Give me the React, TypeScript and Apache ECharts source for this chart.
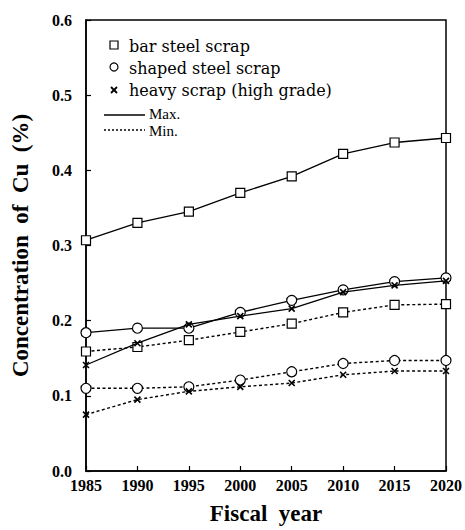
import React, { useEffect, useRef } from "react";
import * as echarts from "echarts";

const years = [1985, 1990, 1995, 2000, 2005, 2010, 2015, 2020];
const barMax = [0.307, 0.33, 0.345, 0.37, 0.392, 0.422, 0.437, 0.443];
const barMin = [0.159, 0.165, 0.174, 0.185, 0.196, 0.211, 0.221, 0.222];
const shapedMax = [0.184, 0.19, 0.19, 0.211, 0.227, 0.241, 0.252, 0.257];
const shapedMin = [0.11, 0.11, 0.112, 0.121, 0.132, 0.143, 0.147, 0.147];
const heavyMax = [0.141, 0.17, 0.195, 0.206, 0.216, 0.238, 0.247, 0.253];
const heavyMin = [0.075, 0.095, 0.106, 0.112, 0.117, 0.128, 0.133, 0.133];

const legendLabels = ["bar steel scrap", "shaped steel scrap", "heavy scrap (high grade)"];
const lineLabels = ["Max.", "Min."];

const SERIF = "'Liberation Serif', 'Times New Roman', serif";
const CROSS = "path://M0,0L10,10M10,0L0,10";

function pairs(vals: number[]) {
  return years.map((y, i) => [y, vals[i]]);
}

export default function App() {
  const ref = useRef<HTMLDivElement>(null);
  useEffect(() => {
    if (!ref.current) return;
    const chart = echarts.init(ref.current, null, { renderer: "svg" });
    const mk = (
      name: string,
      vals: number[],
      kind: "sq" | "ci" | "x",
      dashed: boolean
    ) => ({
      name,
      type: "line",
      data: pairs(vals),
      symbol: kind === "sq" ? "rect" : kind === "ci" ? "circle" : CROSS,
      symbolSize: kind === "sq" ? 9 : kind === "ci" ? 10 : 6,
      showSymbol: true,
      lineStyle: {
        color: "#000",
        width: dashed ? 1.4 : 1.3,
        type: dashed ? [3, 2.5] : "solid",
      },
      itemStyle: {
        color: kind === "x" ? "transparent" : "#fff",
        borderColor: "#000",
        borderWidth: kind === "x" ? 1.6 : 1.2,
      },
      z: kind === "x" ? 4 : kind === "ci" ? 3 : 2,
    });
    chart.setOption({
      animation: false,
      backgroundColor: "#fff",
      grid: {
        left: 86,
        right: 14,
        top: 20,
        bottom: 52,
        show: true,
        borderColor: "#000",
        borderWidth: 1.5,
      },
      xAxis: {
        type: "value",
        min: 1985,
        max: 2020,
        interval: 5,
        name: "Fiscal  year",
        nameLocation: "middle",
        nameGap: 31,
        nameTextStyle: { fontFamily: SERIF, fontWeight: "bold", fontSize: 23, color: "#000" },
        axisLine: { show: true, lineStyle: { color: "#000", width: 1.5 } },
        axisTick: { show: true, inside: true, length: 5, lineStyle: { color: "#000", width: 1.2 } },
        axisLabel: {
          fontFamily: SERIF,
          fontWeight: "bold",
          fontSize: 16,
          color: "#000",
          margin: 6,
          formatter: (v: number) => String(v),
        },
        splitLine: { show: false },
      },
      yAxis: {
        type: "value",
        min: 0,
        max: 0.6,
        interval: 0.1,
        name: "Concentration  of  Cu  (%)",
        nameLocation: "middle",
        nameGap: 54,
        nameRotate: 90,
        nameTextStyle: { fontFamily: SERIF, fontWeight: "bold", fontSize: 23, color: "#000" },
        axisLine: { show: true, lineStyle: { color: "#000", width: 1.5 } },
        axisTick: { show: true, inside: true, length: 5, lineStyle: { color: "#000", width: 1.2 } },
        axisLabel: {
          fontFamily: SERIF,
          fontWeight: "bold",
          fontSize: 16,
          color: "#000",
          margin: 14,
          formatter: (v: number) => v.toFixed(1),
        },
        splitLine: { show: false },
      },
      series: [
        mk("bar steel scrap Max.", barMax, "sq", false),
        mk("bar steel scrap Min.", barMin, "sq", true),
        mk("shaped steel scrap Max.", shapedMax, "ci", false),
        mk("shaped steel scrap Min.", shapedMin, "ci", true),
        mk("heavy scrap Max.", heavyMax, "x", false),
        mk("heavy scrap Min.", heavyMin, "x", true),
      ],
      graphic: [
        { type: "rect", shape: { x: 110, y: 41, width: 8, height: 8 }, style: { fill: "#fff", stroke: "#000", lineWidth: 1.2 } },
        { type: "circle", shape: { cx: 114, cy: 67, r: 4 }, style: { fill: "#fff", stroke: "#000", lineWidth: 1.2 } },
        { type: "line", shape: { x1: 111, y1: 87, x2: 117, y2: 93 }, style: { stroke: "#000", lineWidth: 1.8 } },
        { type: "line", shape: { x1: 117, y1: 87, x2: 111, y2: 93 }, style: { stroke: "#000", lineWidth: 1.8 } },
        { type: "text", x: 129, y: 46, style: { text: legendLabels[0], font: "16px 'DejaVu Serif', serif", fill: "#000", verticalAlign: "middle" } },
        { type: "text", x: 129, y: 68, style: { text: legendLabels[1], font: "16px 'DejaVu Serif', serif", fill: "#000", verticalAlign: "middle" } },
        { type: "text", x: 129, y: 90, style: { text: legendLabels[2], font: "16px 'DejaVu Serif', serif", fill: "#000", verticalAlign: "middle" } },
        { type: "line", shape: { x1: 104, y1: 115, x2: 145, y2: 115 }, style: { stroke: "#000", lineWidth: 1.3 } },
        { type: "line", shape: { x1: 104, y1: 130, x2: 145, y2: 130 }, style: { stroke: "#000", lineWidth: 1.3, lineDash: [2, 2] } },
        { type: "text", x: 149, y: 114, style: { text: lineLabels[0], font: "15px " + SERIF, fill: "#000", verticalAlign: "middle" } },
        { type: "text", x: 149, y: 131, style: { text: lineLabels[1], font: "15px " + SERIF, fill: "#000", verticalAlign: "middle" } },
      ],
    });
    return () => chart.dispose();
  }, []);
  return (
    <div
      ref={ref}
      style={{ position: "fixed", left: 0, top: 0, width: 465, height: 530 }}
    />
  );
}
